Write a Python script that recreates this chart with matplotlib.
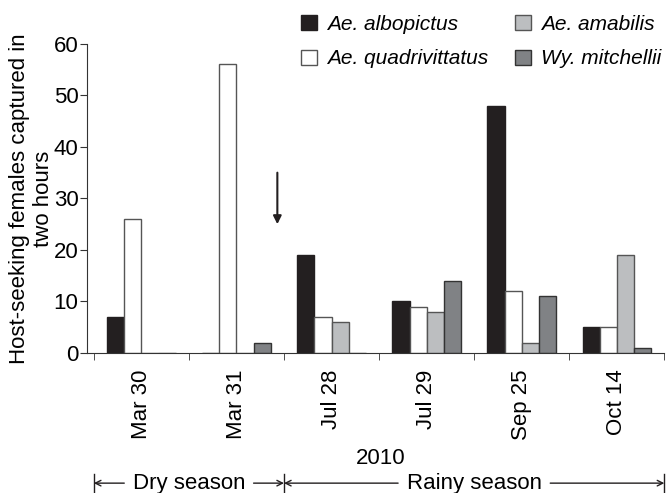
import matplotlib

matplotlib.use('Agg')
import matplotlib.pyplot as plt
import matplotlib.transforms as mtransforms
import numpy

plt.rcParams['font.family'] = ['Liberation Sans', 'DejaVu Sans']

dates = ['Mar 30', 'Mar 31', 'Jul 28', 'Jul 29', 'Sep 25', 'Oct 14']
species = ['Ae. albopictus', 'Ae. quadrivittatus', 'Ae. amabilis', 'Wy. mitchellii']
albopictus = [7, 0, 19, 10, 48, 5]
quadrivittatus = [26, 56, 7, 9, 12, 5]
amabilis = [0, 0, 6, 8, 2, 19]
mitchellii = [0, 2, 0, 14, 11, 1]
seasons = ['Dry season', 'Rainy season']
season_bounds = [(0, 2), (2, 6)]

colors = ['#231f20', '#ffffff', '#bcbec0', '#808285']
edges = ['#231f20', '#555555', '#555555', '#333333']

fig = plt.figure(figsize=(6.67, 4.93), dpi=100)
ax = fig.add_axes([0.130, 0.284, 0.866, 0.627])

series = [albopictus, quadrivittatus, amabilis, mitchellii]
width = 0.18
groups = numpy.arange(len(dates))
handles = []
for j in range(len(series)):
    vals = numpy.array(series[j])
    b = ax.bar(groups + 0.14 + width * j, vals, width=width, align='edge',
               color=colors[j], edgecolor=edges[j], linewidth=1.0,
               label=species[j])
    handles.append(b)

ax.set_xlim(-0.075, 6.0)
ax.set_ylim(0, 60)
ax.set_yticks(numpy.arange(0, 61, 10))
ax.spines['top'].set_visible(False)
ax.spines['right'].set_visible(False)
ax.spines['left'].set_color('#333333')
ax.spines['bottom'].set_color('#333333')

ax.set_xticks(groups + 0.5)
ax.set_xticklabels(dates, rotation=90, fontsize=16)
ax.tick_params(axis='x', length=0, pad=12)
ax.set_xticks(numpy.arange(0, 7), minor=True)
ax.tick_params(axis='x', which='minor', length=5, direction='out', color='#333333')
ax.tick_params(axis='y', labelsize=16, length=5, color='#333333', pad=1)

ax.set_ylabel('Host-seeking females captured in\ntwo hours', fontsize=16, labelpad=0,
              linespacing=1.15)

# arrow marking the change
ax.annotate('', xy=(1.93, 25), xytext=(1.93, 35),
            arrowprops=dict(arrowstyle='-|>', color='#231f20', lw=1.5,
                            mutation_scale=12, shrinkA=0, shrinkB=0))

fig.legend(handles=handles, labels=species, ncol=2, loc='upper left',
           bbox_to_anchor=(0.423, 1.008), frameon=False,
           prop={'style': 'italic', 'size': 15}, handlelength=0.75,
           handleheight=0.75, handletextpad=0.5, columnspacing=1.3,
           labelspacing=0.75)

fig.text(0.57, 0.07, '2010', fontsize=16, ha='center', va='center')

trans = mtransforms.blended_transform_factory(ax.transData, fig.transFigure)
yy = 0.02
for name, (x0, x1) in zip(seasons, season_bounds):
    xc = (x0 + x1) / 2.0
    t = ax.text(xc, yy, name, transform=trans, ha='center', va='center',
                fontsize=16)
    half = 0.68 if x1 - x0 == 2 else 0.8
    ax.annotate('', xy=(x0, yy), xytext=(xc - half, yy), xycoords=trans,
                textcoords=trans, annotation_clip=False,
                arrowprops=dict(arrowstyle='->', color='#231f20', lw=1.0,
                                shrinkA=0, shrinkB=0))
    ax.annotate('', xy=(x1, yy), xytext=(xc + half, yy), xycoords=trans,
                textcoords=trans, annotation_clip=False,
                arrowprops=dict(arrowstyle='->', color='#231f20', lw=1.0,
                                shrinkA=0, shrinkB=0))
for xb in [0, 2, 6]:
    ax.plot([xb, xb], [yy - 0.018, yy + 0.018], transform=trans,
            color='#231f20', lw=1.0, clip_on=False)

plt.savefig('out.png', dpi=100)
